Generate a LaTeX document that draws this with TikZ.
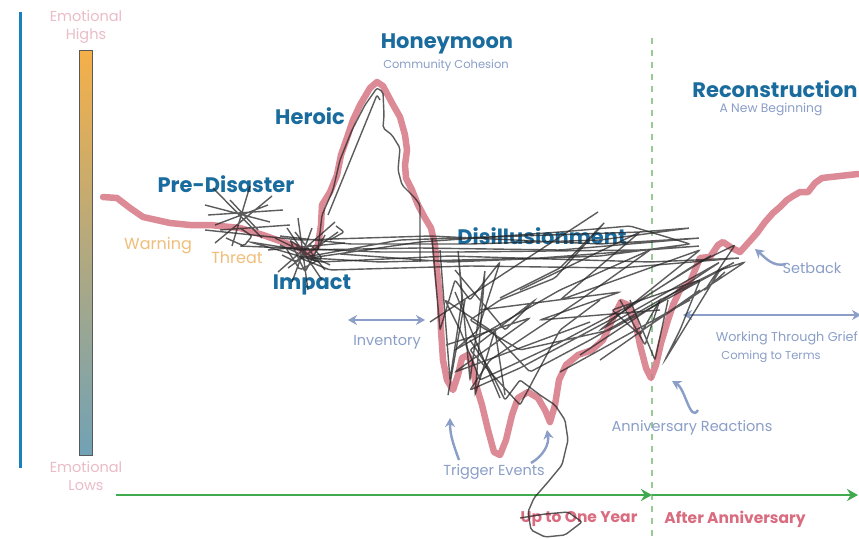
\documentclass[tikz,border=0pt]{standalone}
\usepackage{fontspec}
\setmainfont{Poppins}
\usetikzlibrary{arrows.meta}
\definecolor{hblue}{RGB}{27,108,158}
\definecolor{lblue}{RGB}{138,158,200}
\definecolor{warnor}{RGB}{240,190,120}
\definecolor{lpink}{RGB}{234,188,200}
\definecolor{tpink}{RGB}{218,108,128}
\definecolor{curvepink}{RGB}{214,118,132}
\definecolor{axgreen}{RGB}{64,170,78}
\definecolor{dgreen}{RGB}{150,205,150}
\definecolor{lineblue}{RGB}{24,130,190}
\definecolor{barorange}{RGB}{245,176,72}
\definecolor{barblue}{RGB}{112,162,182}
\tikzset{
  head/.style={font=\fontsize{21}{21}\selectfont\bfseries, text=hblue, inner sep=0pt},
  sub/.style={font=\fontsize{11.5}{11.5}\selectfont, text=lblue, inner sep=0pt},
  lab/.style={font=\fontsize{14.5}{14.5}\selectfont, text=lblue, inner sep=0pt},
  warnlab/.style={font=\fontsize{16}{16}\selectfont, text=warnor, inner sep=0pt},
  pinklab/.style={font=\fontsize{14.5}{18}\selectfont, text=lpink, inner sep=0pt, align=center},
  yearlab/.style={font=\fontsize{15.5}{15.5}\selectfont\bfseries, text=tpink, inner sep=0pt},
  larrow/.style={draw=lblue, line width=2.4pt, -{Stealth[length=9pt,width=10pt]}},
  scrib/.style={draw=black!85, line width=1.4pt, opacity=0.75, rounded corners=2pt},
  emocurve/.style={draw=curvepink, line width=6.5pt, opacity=0.85, line join=round, line cap=round}
}
\begin{document}
\begin{tikzpicture}[x=1pt,y=-1pt]
\useasboundingbox (0,0) rectangle (859,538);
\fill[white] (0,0) rectangle (859,538);

% left blue rule
\coordinate (bltop) at (20,12);
\coordinate (blbot) at (20,468);
\draw[lineblue, line width=3pt] (bltop) -- (blbot);

% gradient bar
\shade[top color=barorange, bottom color=barblue] (79,50) rectangle (92,455);
\draw[black!65, line width=0.8pt] (79,50) rectangle (92,455);
\node[pinklab] (highs) at (86,27) {Emotional\\Highs};
\node[pinklab] (lows) at (86,476) {Emotional\\Lows};

% dashed year line
\coordinate (dtop) at (652,38);
\coordinate (dbot) at (652,538);
\draw[dgreen, line width=1.2pt, dash pattern=on 6pt off 6pt] (dtop) -- (dbot);

% time axis
\coordinate (ax0) at (116,495);
\coordinate (ax1) at (652,495);
\coordinate (ax2) at (858,495);
\draw[axgreen, line width=2.6pt, -{Stealth[length=11pt,width=12pt]}] (ax0) -- (ax1);
\draw[axgreen, line width=2.6pt, -{Stealth[length=11pt,width=12pt]}] (ax1) -- (ax2);
\node[yearlab] (year1) at (579,519) {Up to One Year};
\node[yearlab] (after) at (735,519) {After Anniversary};

% labels
\node[head] (pre) at (226,184) {Pre-Disaster};
\node[head] (heroic) at (310,116) {Heroic};
\node[head] (honey) at (447,44) {Honeymoon};
\node[sub] (cohesion) at (446,66) {Community Cohesion};
\node[head] (disill) at (542,236) {Disillusionment};
\node[head] (impact) at (312,285) {Impact};
\node[head] (recon) at (775,89) {Reconstruction};
\node[sub, font=\fontsize{12.3}{12.3}\selectfont] (newbeg) at (771,109) {A New Beginning};
\node[warnlab] (warning) at (158,246) {Warning};
\node[warnlab] (threat) at (237,258) {Threat};
\node[lab] (invent) at (387,342) {Inventory};
\node[lab] (trigger) at (494,472) {Trigger Events};
\node[lab] (anniv) at (692,428) {Anniversary Reactions};
\node[lab, font=\fontsize{12.8}{12.8}\selectfont, anchor=east] (grief) at (858,338) {Working Through Grief};
\node[sub] (terms) at (771,357) {Coming to Terms};
\node[lab] (setback) at (812,268) {Setback};

% light arrows
\coordinate (inv0) at (348,320);
\coordinate (inv1) at (425,320);
\draw[larrow, {Stealth[length=9pt,width=10pt]}-{Stealth[length=9pt,width=10pt]}] (inv0) -- (inv1);
\coordinate (gr0) at (683,315);
\coordinate (gr1) at (861,315);
\draw[larrow, {Stealth[length=9pt,width=10pt]}-{Stealth[length=9pt,width=10pt]}] (gr0) -- (gr1);
\coordinate (sb0) at (786,264);
\coordinate (sb1) at (755,249);
\draw[larrow] (sb0) to[out=195, in=-40] (sb1);
\coordinate (an0) at (698,410);
\coordinate (an1) at (672,381);
\draw[larrow] (an0) to[out=240, in=-30] (an1);
\coordinate (tl0) at (459,460);
\coordinate (tl1) at (450,418);
\draw[larrow] (tl0) to[out=110, in=-90] (tl1);
\coordinate (tr0) at (531,463);
\coordinate (tr1) at (547,430);
\draw[larrow] (tr0) to[out=30, in=-80] (tr1);

% emotional curve
\draw[emocurve] (103,197) -- (117,198) -- (130,208) -- (143,217) -- (170,223) -- (190,225) -- (210,225) -- (240,228) -- (263,235) -- (277,240) -- (297,247) -- (310,255) -- (318,245) -- (321,225) -- (322,205) -- (330,192) -- (337,175) -- (341,155) -- (348,135) -- (353,120) -- (360,105) -- (370,88) -- (377,82) -- (383,86) -- (392,103) -- (400,117) -- (405,135) -- (407,150) -- (405,165) -- (406,178) -- (412,190) -- (418,205) -- (425,218) -- (431,228) -- (435,245) -- (437,270) -- (440,300) -- (441,330) -- (443,360) -- (447,380) -- (453,390) -- (458,375) -- (462,358) -- (468,355) -- (472,365) -- (476,385) -- (482,405) -- (488,430) -- (494,452) -- (500,455) -- (506,440) -- (512,415) -- (518,398) -- (528,392) -- (538,398) -- (545,410) -- (550,422) -- (555,405) -- (559,380) -- (566,365) -- (578,355) -- (592,350) -- (603,340) -- (613,318) -- (621,302) -- (628,305) -- (635,320) -- (640,345) -- (646,368) -- (651,378) -- (656,365) -- (661,343) -- (668,320) -- (673,305) -- (680,290) -- (690,282) -- (695,270) -- (700,258) -- (710,257) -- (718,245) -- (723,242) -- (732,248) -- (740,252) -- (749,242) -- (757,233) -- (765,222) -- (773,213) -- (780,207) -- (787,200) -- (793,196) -- (800,192) -- (808,192) -- (815,183) -- (822,178) -- (840,176) -- (858,174);

% scribbles
\draw[scrib] (318,250) -- (322,215) -- (333,190) -- (340,160) -- (352,130) -- (365,105) -- (377,88) -- (383,92) -- (384,115) -- (383,128) -- (392,135) -- (400,148) -- (398,170) -- (402,185) -- (415,198) -- (420,205) -- (420,262);
\draw[scrib] (328,215) -- (377,95) -- (380,100);
\draw[scrib] (213,188) -- (262,238) (272,196) -- (215,243) (208,215) -- (283,210) (250,186) -- (232,246) (220,230) -- (290,225) (205,205) -- (270,222) (226,238) -- (244,246) -- (252,236) -- (240,228) (230,200) -- (258,230) (215,225) -- (268,205);
\draw[scrib] (287,228) -- (322,280) (335,222) -- (278,272) (268,250) -- (345,243) (298,218) -- (308,290) (288,268) -- (338,232) (312,228) -- (292,282) (275,238) -- (330,265) (282,255) -- (296,262) -- (310,244) -- (322,258) -- (300,270) -- (286,248) (336,226) -- (344,232) -- (330,240) (295,232) -- (325,270) (280,245) -- (318,262) -- (290,240) -- (305,272) -- (325,235);
\draw[scrib] (205,230) -- (300,240) -- (430,236) -- (600,244) -- (700,238) -- (560,250) -- (420,248) -- (300,250) -- (250,242) -- (320,262) -- (450,256) -- (650,262) -- (740,258) -- (620,268) -- (470,266) -- (330,270) -- (300,258) -- (400,240) -- (520,236) -- (640,232) -- (690,228) -- (600,240) -- (470,244) -- (350,244) -- (280,236);
\draw[scrib] (240,246) -- (380,252) -- (460,252) -- (640,250) -- (700,246) -- (540,258) -- (380,262) -- (310,258) -- (420,242) -- (560,232) -- (630,226) -- (690,244) -- (600,256) -- (450,262) -- (340,254);
\draw[scrib] (432,238) -- (440,330) -- (455,280) -- (470,300) -- (500,262) -- (478,330) -- (455,350) -- (560,290) -- (650,250) -- (580,300) -- (490,360) -- (470,390) -- (520,368) -- (610,320) -- (690,268) -- (712,255) -- (640,300) -- (555,345) -- (480,380) -- (460,330) -- (445,300) -- (490,330) -- (530,372) -- (590,340) -- (660,300) -- (735,262) -- (680,292) -- (610,330) -- (520,350) -- (470,320) -- (500,300) -- (555,278) -- (605,222) -- (560,268) -- (500,298);
\draw[scrib] (440,250) -- (450,380) -- (462,300) -- (458,250) -- (470,380) -- (485,270) -- (475,395) -- (495,330) -- (505,395) (455,270) -- (505,330) -- (535,300) -- (470,350) -- (520,405) -- (560,330) -- (600,300) (520,290) -- (640,232) -- (560,300) -- (700,250) -- (600,330) -- (720,262) -- (580,355) (480,310) -- (620,292) -- (540,320) -- (660,310) (446,345) -- (530,318) -- (455,372) -- (590,322);
\draw[scrib] (620,300) -- (645,345) -- (660,300) -- (640,335) -- (612,310) -- (700,280) -- (680,330) -- (665,360) -- (720,270) -- (745,262) -- (650,325) (600,360) -- (700,290) (560,372) -- (690,300) (430,322) -- (598,212) (455,292) -- (500,398) (465,300) -- (448,395) (630,300) -- (655,360) -- (668,300) (700,262) -- (735,245) -- (705,290) -- (725,272);
\draw[scrib] (470,340) -- (490,370) -- (505,400) -- (520,380) -- (540,395) -- (555,405) -- (565,420) -- (568,440) -- (562,465) -- (548,482) -- (534,498) -- (528,512) -- (531,530) -- (545,537) -- (565,535) -- (582,522) -- (568,512) -- (545,514) -- (520,518);
\end{tikzpicture}
\end{document}
